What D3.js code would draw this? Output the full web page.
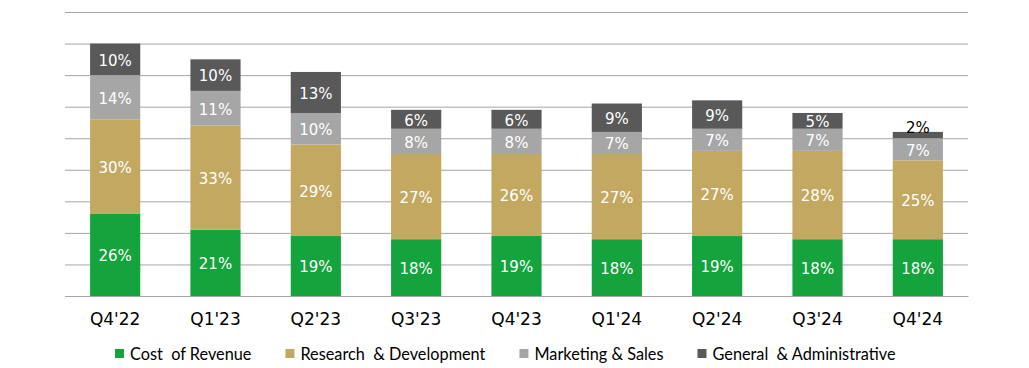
<!DOCTYPE html>
<html>
<head>
<meta charset="utf-8">
<script src="https://cdn.jsdelivr.net/npm/d3@7"></script>
<style>
  body { margin: 0; background: #fff; }
  svg { display: block; }
</style>
</head>
<body>
<div id="chart"></div>
<script>
// quarters + cost breakdown as % of revenue
const quarters = ["Q4'22", "Q1'23", "Q2'23", "Q3'23", "Q4'23", "Q1'24", "Q2'24", "Q3'24", "Q4'24"];
const costOfRevenue = [26, 21, 19, 18, 19, 18, 19, 18, 18];
const researchDev   = [30, 33, 29, 27, 26, 27, 27, 28, 25];
const marketingSales = [14, 11, 10, 8, 8, 7, 7, 7, 7];
const generalAdmin  = [10, 10, 13, 6, 6, 9, 9, 5, 2];
const seriesNames = ['Cost  of Revenue', 'Research  & Development', 'Marketing & Sales', 'General  & Administrative'];
const yTicks = [0, 10, 20, 30, 40, 50, 60, 70, 80, 90];

const colors = ['#14a33d', '#c3a862', '#a6a6a6', '#595959'];

const W = 1029, H = 368;
const margin = { left: 65, right: 61, top: 12, bottom: 72 };
const width = W - margin.left - margin.right;
const height = H - margin.top - margin.bottom;

const rows = quarters.map((q, i) => ({
  q,
  s0: costOfRevenue[i],
  s1: researchDev[i],
  s2: marketingSales[i],
  s3: generalAdmin[i]
}));
const keys = ['s0', 's1', 's2', 's3'];
const stacked = d3.stack().keys(keys)(rows);

const svg = d3.select('#chart').append('svg')
  .attr('width', W)
  .attr('height', H);

const g = svg.append('g')
  .attr('transform', `translate(${margin.left},${margin.top})`);

const x = d3.scaleBand().domain(quarters).range([0, width]).paddingInner(0.5).paddingOuter(0.25);
const y = d3.scaleLinear().domain([0, 90]).range([height, 0]);

// gridlines
g.append('g')
  .call(d3.axisLeft(y).tickValues(yTicks).tickSize(-width).tickFormat(''))
  .call(a => a.select('.domain').remove())
  .call(a => a.selectAll('.tick line').attr('stroke', '#a6a6a6').attr('stroke-width', 1));

// bars
const layers = g.selectAll('.layer')
  .data(stacked)
  .enter().append('g')
    .attr('class', 'layer')
    .attr('fill', (d, i) => colors[i]);

layers.selectAll('rect')
  .data(d => d)
  .enter().append('rect')
    .attr('x', d => x(d.data.q))
    .attr('width', x.bandwidth())
    .attr('y', d => y(d[1]))
    .attr('height', d => y(d[0]) - y(d[1]));

// data labels (tiny segments get a dark label nudged up above the bar top)
stacked.forEach((layer, li) => {
  g.append('g').selectAll('text')
    .data(layer)
    .enter().append('text')
      .attr('x', d => x(d.data.q) + x.bandwidth() / 2)
      .attr('y', d => (d[1] - d[0]) < 4 ? y(d[1]) + 1 : (y(d[0]) + y(d[1])) / 2)
      .attr('dy', d => (d[1] - d[0]) < 4 ? '0' : '0.42em')
      .attr('text-anchor', 'middle')
      .attr('font-family', 'DejaVu Sans, sans-serif')
      .attr('font-size', '15px')
      .attr('fill', d => (d[1] - d[0]) < 4 ? '#000' : '#fff')
      .text(d => `${d[1] - d[0]}%`);
});

// x axis labels
g.append('g')
  .attr('transform', `translate(0,${height})`)
  .call(d3.axisBottom(x).tickSize(0).tickPadding(17))
  .call(a => a.select('.domain').attr('stroke', '#a6a6a6'))
  .call(a => a.selectAll('text')
    .attr('font-family', 'DejaVu Sans, sans-serif')
    .attr('font-size', '17px')
    .attr('fill', '#000'));

// legend
const legend = svg.append('g').attr('transform', `translate(115, 360)`);
let lx = 0;
seriesNames.forEach((name, i) => {
  const item = legend.append('g').attr('transform', `translate(${lx},0)`);
  item.append('rect')
    .attr('x', 0).attr('y', -11)
    .attr('width', 9).attr('height', 9)
    .attr('fill', colors[i]);
  const t = item.append('text')
    .attr('x', 15)
    .attr('y', 0)
    .attr('font-family', 'Lato, sans-serif')
    .attr('font-size', '16.3px')
    .attr('fill', '#000')
    .style('white-space', 'pre')
    .text(name);
  lx += 15 + t.node().getComputedTextLength() + 34;
});
</script>
</body>
</html>
